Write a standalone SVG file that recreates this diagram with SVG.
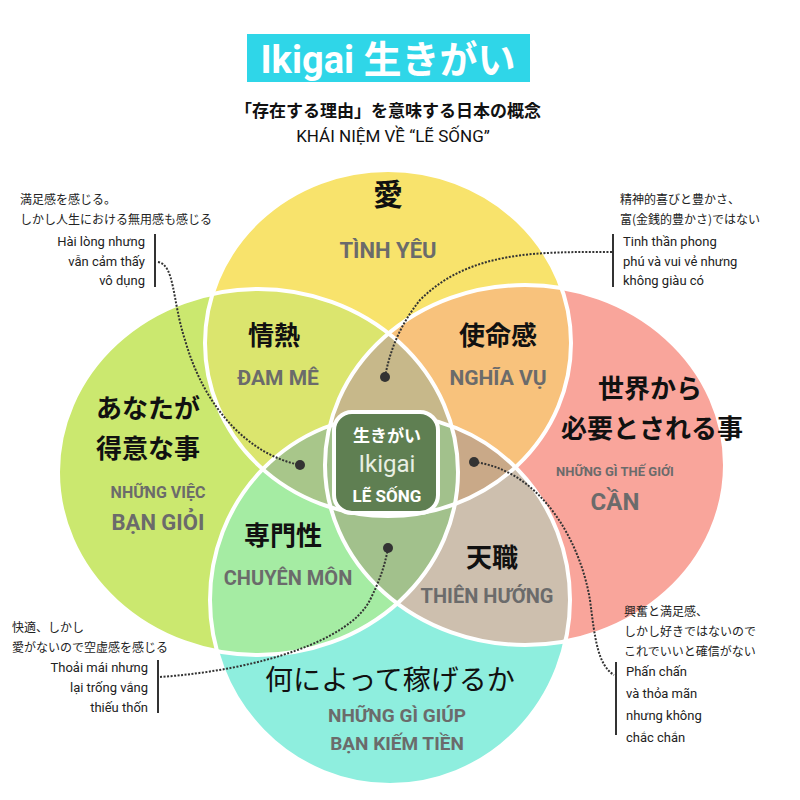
<svg xmlns="http://www.w3.org/2000/svg" width="800" height="800" viewBox="0 0 800 800">
<style>
.jp{font-family:"Noto Sans CJK JP",sans-serif;fill:#111;text-anchor:middle}
.vn{font-family:"Roboto","Noto Sans",sans-serif;font-weight:bold;fill:#6b6b6b;text-anchor:middle}
.note{font-family:"Noto Sans CJK JP",sans-serif;font-size:12px;fill:#222}
.nv{font-family:"Roboto","Liberation Sans",sans-serif;font-size:13px;fill:#222}
.edge{fill:none;stroke:#333;stroke-width:2;stroke-dasharray:2 1.5}
.bar{stroke:#333;stroke-width:2}
</style>
<defs>
<clipPath id="cT"><ellipse cx="388" cy="343" rx="183" ry="173"/></clipPath>
<clipPath id="cL"><ellipse cx="258" cy="472" rx="200" ry="183"/></clipPath>
<clipPath id="cR"><ellipse cx="525" cy="465" rx="200" ry="180"/></clipPath>
<clipPath id="cB"><ellipse cx="390" cy="600" rx="180" ry="185"/></clipPath>
</defs>
<rect width="800" height="800" fill="#fff"/>
<g id="title">
<rect x="247" y="34" width="283" height="48" fill="#2fd6e8"/>
<text x="388" y="73" font-family="Roboto,sans-serif" font-weight="bold" font-size="38" fill="#fff" text-anchor="middle">Ikigai <tspan font-family="Noto Sans CJK JP,sans-serif">生きがい</tspan></text>
<text x="388" y="117" class="jp" font-size="17" font-weight="bold">「存在する理由」を意味する日本の概念</text>
<text x="393" y="142" font-family="Roboto,sans-serif" font-size="17" fill="#111" text-anchor="middle">KHÁI NIỆM VỀ “LẼ SỐNG”</text>
</g>
<g id="circles">
<ellipse cx="388" cy="343" rx="183" ry="173" fill="#f8e36c"/>
<ellipse cx="258" cy="472" rx="200" ry="183" fill="#cbe86f"/>
<ellipse cx="525" cy="465" rx="200" ry="180" fill="#f9a59b"/>
<ellipse cx="390" cy="600" rx="180" ry="185" fill="#8eeede"/>
<g clip-path="url(#cT)"><ellipse cx="258" cy="472" rx="200" ry="183" fill="#dbe56e"/><ellipse cx="525" cy="465" rx="200" ry="180" fill="#f8c27c"/></g>
<g clip-path="url(#cB)"><ellipse cx="258" cy="472" rx="200" ry="183" fill="#a5eca3"/><ellipse cx="525" cy="465" rx="200" ry="180" fill="#cdbfae"/></g>
<g clip-path="url(#cT)"><g clip-path="url(#cL)"><ellipse cx="525" cy="465" rx="200" ry="180" fill="#c7b88a"/><ellipse cx="390" cy="600" rx="180" ry="185" fill="#a8c68a"/></g></g>
<g clip-path="url(#cR)"><g clip-path="url(#cB)"><ellipse cx="388" cy="343" rx="183" ry="173" fill="#c9a988"/><ellipse cx="258" cy="472" rx="200" ry="183" fill="#a2c18c"/></g></g>
<g fill="none" stroke="#fff" stroke-width="4">
<ellipse cx="388" cy="343" rx="183" ry="173"/>
<ellipse cx="258" cy="472" rx="200" ry="183"/>
<ellipse cx="525" cy="465" rx="200" ry="180"/>
<ellipse cx="390" cy="600" rx="180" ry="185"/>
</g>
</g>
<g id="love"><text x="388" y="205" class="jp" font-size="30" font-weight="bold">愛</text><text x="388" y="258" class="vn" font-size="22">TÌNH YÊU</text></g>
<g id="passion"><text x="274" y="345" class="jp" font-size="26" font-weight="bold">情熱</text><text x="278" y="385" class="vn" font-size="21">ĐAM MÊ</text></g>
<g id="mission"><text x="498" y="345" class="jp" font-size="26" font-weight="bold">使命感</text><text x="498" y="385" class="vn" font-size="21">NGHĨA VỤ</text></g>
<g id="good"><text x="148" y="418" class="jp" font-size="26" font-weight="bold">あなたが</text><text x="148" y="458" class="jp" font-size="26" font-weight="bold">得意な事</text><text x="158" y="498" class="vn" font-size="16">NHỮNG VIỆC</text><text x="158" y="530" class="vn" font-size="22">BẠN GIỎI</text></g>
<g id="need"><text x="650" y="398" class="jp" font-size="26" font-weight="bold">世界から</text><text x="652" y="438" class="jp" font-size="26" font-weight="bold">必要とされる事</text><text x="615" y="476" class="vn" font-size="13">NHỮNG GÌ THẾ GIỚI</text><text x="615" y="510" class="vn" font-size="24">CẦN</text></g>
<g id="profession"><text x="283" y="545" class="jp" font-size="26" font-weight="bold">専門性</text><text x="288" y="585" class="vn" font-size="20">CHUYÊN MÔN</text></g>
<g id="vocation"><text x="492" y="567" class="jp" font-size="26" font-weight="bold">天職</text><text x="487" y="603" class="vn" font-size="20">THIÊN HƯỚNG</text></g>
<g id="paid"><text x="390" y="690" class="jp" font-size="28">何によって稼げるか</text><text x="397" y="722" class="vn" font-size="19">NHỮNG GÌ GIÚP</text><text x="397" y="750" class="vn" font-size="19">BẠN KIẾM TIỀN</text></g>
<g id="ikigai">
<rect x="334" y="412" width="104" height="101" rx="18" fill="#5f7f52" stroke="#fff" stroke-width="4"/>
<text x="387" y="442" class="jp" font-size="17" font-weight="bold" style="fill:#fff">生きがい</text>
<text x="387" y="472" font-family="Roboto,sans-serif" font-size="24" fill="#e8efe3" text-anchor="middle">Ikigai</text>
<text x="387" y="502" font-family="Roboto,sans-serif" font-weight="bold" font-size="17" fill="#fff" text-anchor="middle">LẼ SỐNG</text>
</g>
<g id="note-tl">
<text x="20" y="204" class="note">満足感を感じる。</text><text x="20" y="224" class="note">しかし人生における無用感も感じる</text>
<text x="145" y="246" class="nv" text-anchor="end">Hài lòng nhưng</text><text x="145" y="266" class="nv" text-anchor="end">vẫn cảm thấy</text><text x="145" y="285" class="nv" text-anchor="end">vô dụng</text>
<line x1="155" y1="234" x2="155" y2="287" class="bar"/>
</g>
<g id="note-tr">
<text x="620" y="204" class="note">精神的喜びと豊かさ、</text><text x="620" y="224" class="note">富(金銭的豊かさ)ではない</text>
<text x="623" y="246" class="nv">Tinh thần phong</text><text x="623" y="266" class="nv">phú và vui vẻ nhưng</text><text x="623" y="285" class="nv">không giàu có</text>
<line x1="613" y1="234" x2="613" y2="287" class="bar"/>
</g>
<g id="note-bl">
<text x="12" y="632" class="note">快適、しかし</text><text x="12" y="652" class="note">愛がないので空虚感を感じる</text>
<text x="148" y="672" class="nv" text-anchor="end">Thoải mái nhưng</text><text x="148" y="692" class="nv" text-anchor="end">lại trống vắng</text><text x="148" y="712" class="nv" text-anchor="end">thiếu thốn</text>
<line x1="158" y1="660" x2="158" y2="713" class="bar"/>
</g>
<g id="note-br">
<text x="624" y="616" class="note">興奮と満足感、</text><text x="624" y="636" class="note">しかし好きではないので</text><text x="624" y="656" class="note">これでいいと確信がない</text>
<text x="626" y="676" class="nv">Phấn chấn</text><text x="626" y="698" class="nv">và thỏa mãn</text><text x="626" y="720" class="nv">nhưng không</text><text x="626" y="742" class="nv">chắc chắn</text>
<line x1="616" y1="662" x2="616" y2="735" class="bar"/>
</g>
<g id="connectors">
<path class="edge" d="M158 262 C175 265 172 300 185 340 C205 410 250 455 300 465"/>
<circle cx="300" cy="465" r="5" fill="#333"/>
<path class="edge" d="M612 252 C540 252 470 250 420 300 C400 325 390 350 385 377"/>
<circle cx="385" cy="377" r="5" fill="#333"/>
<path class="edge" d="M474 462 C540 470 580 540 590 600 C595 640 598 665 614 675"/>
<circle cx="474" cy="462" r="5" fill="#333"/>
<path class="edge" d="M160 677 C260 670 350 640 370 600 C380 580 385 565 388 548"/>
<circle cx="388" cy="548" r="5" fill="#333"/>
</g>
</svg>
